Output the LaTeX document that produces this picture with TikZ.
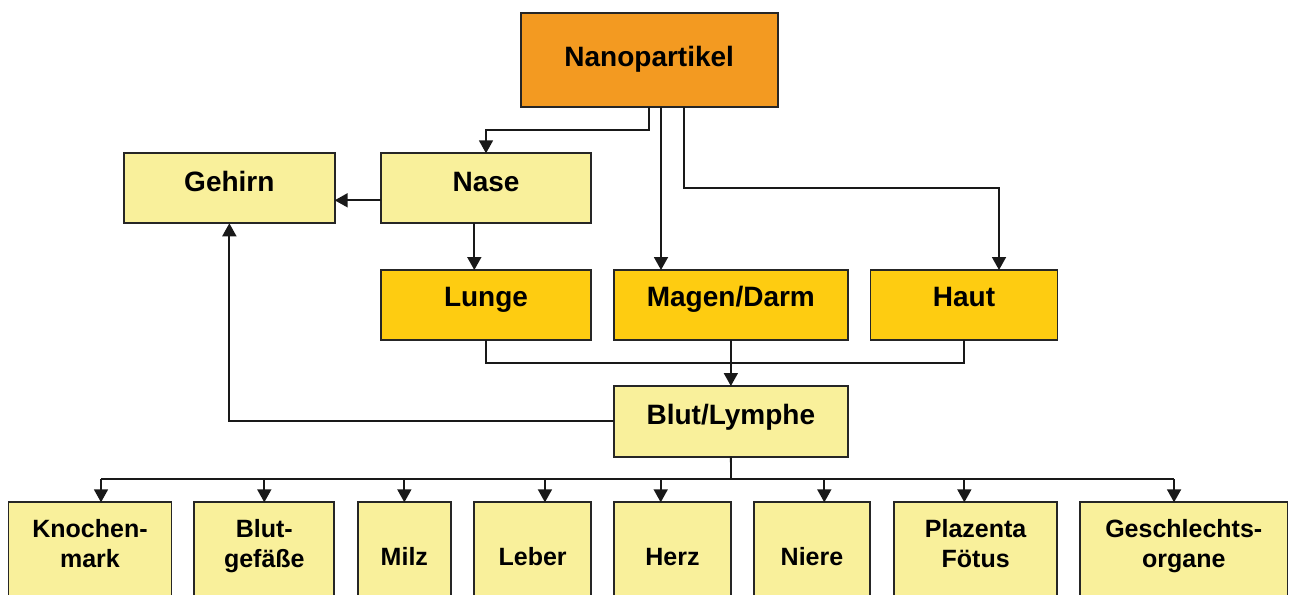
\documentclass[tikz,border=0pt]{standalone}
\usepackage{fontspec}
\setmainfont{Liberation Sans}
\usetikzlibrary{arrows.meta,calc}
\definecolor{nanoorange}{HTML}{F39A21}
\definecolor{paleyellow}{HTML}{F9F09B}
\definecolor{organgold}{HTML}{FECC11}
\newcommand{\twolines}[2]{\vtop{\halign{\hfil##\hfil\cr#1\cr#2\cr}}}
\tikzset{
  box/.style={draw=black!85, line width=1.8pt, inner sep=0pt, outer sep=0pt,
    anchor=north west, font=\bfseries\fontsize{28}{30}\selectfont},
  topbox/.style={box, minimum height=70pt, text height=37.7pt, text depth=32.3pt, fill=paleyellow},
  midbox/.style={box, minimum height=70pt, text height=36.7pt, text depth=33.3pt, fill=organgold},
  botone/.style={box, font=\bfseries\fontsize{25}{30}\selectfont, fill=paleyellow,
    minimum height=110pt, text height=62.7pt, text depth=47.3pt},
  bottwo/.style={box, font=\bfseries\fontsize{25}{30}\selectfont, fill=paleyellow,
    minimum height=110pt, text height=35.4pt, text depth=74.6pt},
  conn/.style={line width=1.8pt, black!90},
  arr/.style={conn, -{Triangle[width=14pt,length=13pt]}},
}
\begin{document}
\begin{tikzpicture}[x=1pt,y=-1pt]
\useasboundingbox (0,0) rectangle (1289,594);
% boxes
\node[box, fill=nanoorange, minimum width=257pt, minimum height=93.4pt,
  text height=53.4pt, text depth=40pt] (nano) at (520.7,13.3) {Nanopartikel};
\node[topbox, minimum width=210.7pt] (gehirn) at (124,153.3) {Gehirn};
\node[topbox, minimum width=210pt] (nase) at (381,153.3) {Nase};
\node[midbox, minimum width=210pt] (lunge) at (381,270) {Lunge};
\node[midbox, minimum width=233.7pt] (magen) at (614,270) {Magen/Darm};
\node[midbox, minimum width=187pt] (haut) at (870.5,270) {Haut};
\node[box, fill=paleyellow, minimum width=233.7pt, minimum height=70.7pt,
  text height=38pt, text depth=32.7pt] (blut) at (614,386) {Blut/Lymphe};
\node[bottwo, minimum width=163pt] (knochen) at (8.5,502.3) {\twolines{Knochen-}{mark}};
\node[bottwo, minimum width=140pt] (gefaesse) at (194.3,502.3) {\twolines{Blut-}{gefäße}};
\node[botone, minimum width=93.3pt] (milz) at (357.7,502.3) {Milz};
\node[botone, minimum width=116.7pt] (leber) at (474.3,502.3) {Leber};
\node[botone, minimum width=117pt] (herz) at (614,502.3) {Herz};
\node[botone, minimum width=116pt] (niere) at (754,502.3) {Niere};
\node[bottwo, minimum width=163.3pt] (plazenta) at (894,502.3) {\twolines{Plazenta}{Fötus}};
\node[bottwo, minimum width=207.5pt] (geschl) at (1080,502.3) {\twolines{Geschlechts-}{organe}};
% connectors from Nanopartikel
\draw[arr] (nano.south) -- ++(0,23.3) -| (nase.north);
\draw[arr] ([xshift=11.8pt]nano.south) -- ([xshift=11.8pt]nano.south |- magen.north);
\coordinate (hautin) at ([xshift=35pt]haut.north);
\draw[arr] ([xshift=35pt]nano.south) -- ++(0,81.3) -| (hautin);
% Nase
\draw[arr] ([yshift=-12pt]nase.west) -- ([yshift=-12pt]nase.west -| gehirn.east);
\draw[arr] ([xshift=-11.7pt]nase.south) -- ([xshift=-11.7pt]nase.south |- lunge.north);
% collect to Blut
\coordinate (collect) at (731,362.7);
\draw[conn] (lunge.south) |- (collect) -| (haut.south);
\draw[arr] (magen.south) -- (blut.north);
\draw[arr] (blut.west) -| (gehirn.south);
% distribution bus
\coordinate (bus) at (731,479.3);
\coordinate (tk) at ([xshift=11pt]knochen.north);
\coordinate (tg) at (gefaesse.north);
\coordinate (tm) at (milz.north);
\coordinate (tl) at ([xshift=12.3pt]leber.north);
\coordinate (th) at ([xshift=-11.8pt]herz.north);
\coordinate (tn) at ([xshift=12.3pt]niere.north);
\coordinate (tp) at ([xshift=-11.3pt]plazenta.north);
\coordinate (ts) at ([xshift=-9.7pt]geschl.north);
\draw[conn] (blut.south) -- (bus);
\draw[conn] (bus -| tk) -- (bus -| ts);
\foreach \t in {tk,tg,tm,tl,th,tn,tp,ts}
  \draw[arr] (bus -| \t) -- (\t);
\end{tikzpicture}
\end{document}
